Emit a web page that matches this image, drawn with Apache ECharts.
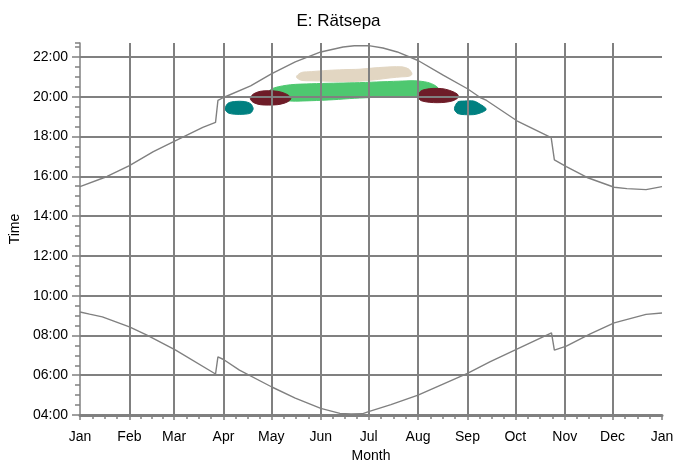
<!DOCTYPE html>
<html><head><meta charset="utf-8">
<script src="https://cdn.jsdelivr.net/npm/echarts@6/dist/echarts.min.js"></script>
<style>html,body{margin:0;padding:0;background:#fff}#c{width:677px;height:463px}</style>
</head><body><div id="c"></div>
<script>
const chartTitle = 'E: Rätsepa';
const monthStarts = [0, 31, 59, 90, 120, 151, 181, 212, 243, 273, 304, 334, 365];
const monthLabels = ['Jan','Feb','Mar','Apr','May','Jun','Jul','Aug','Sep','Oct','Nov','Dec','Jan'];

const sunsetDays  = [0, 17, 31, 46, 60, 77, 85, 86.5, 90, 107, 120, 135, 151, 165, 172, 181, 190, 199, 212, 228, 243, 251, 255, 274, 295.5, 297.5, 305, 318, 335, 343, 355, 365];
const sunsetTimes = [15.48, 15.99, 16.54, 17.24, 17.79, 18.46, 18.71, 19.81, 19.96, 20.55, 21.15, 21.75, 22.25, 22.5, 22.56, 22.57, 22.45, 22.25, 21.82, 21.07, 20.4, 19.96, 19.81, 18.79, 17.94, 16.82, 16.49, 15.94, 15.45, 15.38, 15.33, 15.48];

const sunriseDays  = [0, 6, 14, 31, 42, 60, 85, 86.5, 90, 100, 120, 135, 151, 163, 170, 177, 181, 195, 212, 243, 257, 274, 295.7, 297.5, 305, 320, 335, 355, 365];
const sunriseTimes = [9.18, 9.07, 8.93, 8.43, 8.01, 7.26, 6.06, 6.92, 6.79, 6.26, 5.42, 4.85, 4.33, 4.08, 4.05, 4.06, 4.17, 4.52, 5.0, 6.09, 6.67, 7.31, 8.13, 7.26, 7.46, 8.08, 8.63, 9.06, 9.13];

const teal1Days = [91, 93, 97, 103, 107, 108.5];
const teal1Hi   = [19.45, 19.68, 19.76, 19.76, 19.65, 19.45];
const teal1Lo   = [19.35, 19.18, 19.12, 19.12, 19.18, 19.35];

const red1Days = [107, 109, 113, 118, 124, 129, 132];
const red1Hi   = [19.98, 20.15, 20.27, 20.3, 20.27, 20.15, 19.98];
const red1Lo   = [19.85, 19.7, 19.6, 19.58, 19.6, 19.7, 19.85];

const greenDays = [118, 122, 132, 145, 159, 172, 186, 200, 210, 218, 223, 226];
const greenHi   = [20.25, 20.45, 20.6, 20.65, 20.68, 20.7, 20.74, 20.78, 20.8, 20.72, 20.55, 20.3];
const greenLo   = [20.05, 19.85, 19.78, 19.8, 19.85, 19.92, 19.97, 20.0, 20.02, 20.1, 20.15, 20.2];

const beigeDays = [136, 139, 145, 155, 165, 175, 185, 195, 202, 206, 208];
const beigeHi   = [21.05, 21.22, 21.26, 21.32, 21.36, 21.38, 21.45, 21.5, 21.5, 21.4, 21.2];
const beigeLo   = [20.95, 20.82, 20.8, 20.78, 20.76, 20.78, 20.85, 20.95, 21.0, 21.02, 21.1];

const red2Days = [212, 214, 219, 224, 229, 234, 237];
const red2Hi   = [20.1, 20.3, 20.4, 20.42, 20.38, 20.25, 20.1];
const red2Lo   = [19.95, 19.8, 19.72, 19.7, 19.72, 19.8, 19.95];

const teal2Days = [235, 237, 241, 247, 251, 254.5];
const teal2Hi   = [19.48, 19.74, 19.78, 19.78, 19.62, 19.42];
const teal2Lo   = [19.32, 19.15, 19.1, 19.1, 19.18, 19.32];

const minorTicks = [];
for (let i = 0; i < monthStarts.length - 1; i++) {
  const a = monthStarts[i], b = monthStarts[i + 1];
  for (let k = 1; k < 4; k++) minorTicks.push(a + (b - a) * k / 4);
}

const FONT = 'Liberation Sans, Arial, sans-serif';
const GRAY = '#808080';

function blob(name, days, hi, lo, color) {
  const rows = days.map((d, i) => [d, hi[i], lo[i]]);
  return {
    type: 'custom', name, zlevel: 0, z: 1, silent: true,
    xAxisIndex: 0, yAxisIndex: 0,
    data: rows,
    renderItem: function (params, api) {
      if (params.dataIndex !== 0) return null;
      const pts = [];
      rows.forEach(r => pts.push(api.coord([r[0], r[1]])));
      for (let i = rows.length - 1; i >= 0; i--) pts.push(api.coord([rows[i][0], rows[i][2]]));
      return { type: 'polygon', shape: { points: pts, smooth: 0.3 }, style: { fill: color, stroke: color, lineWidth: 1 } };
    }
  };
}

function line(name, days, times) {
  return {
    type: 'line', name, zlevel: 1, z: 8, xAxisIndex: 0, yAxisIndex: 0,
    data: days.map((d, i) => [d, times[i]]),
    symbol: 'none', lineStyle: { color: GRAY, width: 1.4 }, itemStyle: { color: GRAY }
  };
}

const chart = echarts.init(document.getElementById('c'));
chart.setOption({
  animation: false,
  backgroundColor: '#fff',
  title: { text: chartTitle, left: 'center', top: 8, textStyle: { fontFamily: FONT, fontSize: 17, fontWeight: 'normal', color: '#000' } },
  grid: { left: 80, right: 15, top: 43, bottom: 48, outerBoundsMode: 'none', containLabel: false },
  xAxis: [{
    type: 'value', min: 0, max: 365, position: 'bottom', zlevel: 1, z: 5,
    name: 'Month', nameLocation: 'middle', nameGap: 32,
    nameTextStyle: { fontFamily: FONT, fontSize: 14, color: '#000' },
    axisLine: { show: true, onZero: false, lineStyle: { color: GRAY, width: 3 } },
    axisTick: { show: true, customValues: monthStarts, length: 5, lineStyle: { color: GRAY, width: 1.5 } },
    axisLabel: { customValues: monthStarts, showMinLabel: true, showMaxLabel: true, margin: 15,
      fontFamily: FONT, fontSize: 14, color: '#000',
      formatter: v => monthLabels[monthStarts.indexOf(Math.round(v))] },
    splitLine: { show: true, showMinLine: false, showMaxLine: false, lineStyle: { color: GRAY, width: 2 } }
  }, {
    type: 'value', min: 0, max: 365, position: 'bottom', zlevel: 1, z: 5,
    axisLine: { show: false, onZero: false },
    axisTick: { show: true, customValues: minorTicks, length: 4, lineStyle: { color: GRAY, width: 1.5 } },
    axisLabel: { show: false }, splitLine: { show: false }
  }],
  yAxis: [{
    type: 'value', min: 4, max: 22.7, interval: 2, position: 'left', zlevel: 1, z: 5,
    name: 'Time', nameLocation: 'middle', nameGap: 58, nameRotate: 90,
    nameTextStyle: { fontFamily: FONT, fontSize: 14, color: '#000' },
    axisLine: { show: true, lineStyle: { color: GRAY, width: 1.5 } },
    axisTick: { show: true, length: 8, lineStyle: { color: GRAY, width: 1.5 } },
    axisLabel: { showMaxLabel: false, margin: 12, fontFamily: FONT, fontSize: 14, color: '#000',
      formatter: v => (v < 10 ? '0' : '') + v + ':00' },
    splitLine: { show: true, showMinLine: false, showMaxLine: false, lineStyle: { color: GRAY, width: 2 } }
  }, {
    type: 'value', min: 4, max: 22.7, interval: 0.5, position: 'left', zlevel: 1, z: 5,
    axisLine: { show: false },
    axisTick: { show: true, length: 5, lineStyle: { color: GRAY, width: 1.5 } },
    axisLabel: { show: false }, splitLine: { show: false }
  }],
  series: [
    blob('green', greenDays, greenHi, greenLo, '#4ec870'),
    blob('beige', beigeDays, beigeHi, beigeLo, '#e2d6c2'),
    blob('teal1', teal1Days, teal1Hi, teal1Lo, '#008080'),
    blob('red1', red1Days, red1Hi, red1Lo, '#6e1c28'),
    blob('red2', red2Days, red2Hi, red2Lo, '#6e1c28'),
    blob('teal2', teal2Days, teal2Hi, teal2Lo, '#008080'),
    line('Sunset', sunsetDays, sunsetTimes),
    line('Sunrise', sunriseDays, sunriseTimes)
  ]
});
</script></body></html>
